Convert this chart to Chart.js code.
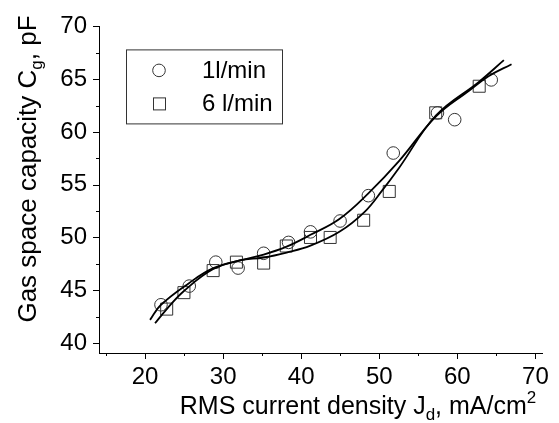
<!DOCTYPE html>
<html>
<head>
<meta charset="utf-8">
<title>Gas space capacity vs RMS current density</title>
<script src="https://cdn.jsdelivr.net/npm/chart.js@4.4.1/dist/chart.umd.min.js"></script>
<style>
  html, body { margin: 0; padding: 0; background: #fff; }
  #wrap { width: 559px; height: 423px; }
</style>
</head>
<body>
<div id="wrap"><canvas id="capChart" width="559" height="423"></canvas></div>
<script>
// measured points, 1 l/min (circles)
const flow1X = [22.04, 25.66, 29.06, 31.92, 35.19, 38.38, 41.19, 44.98, 48.6, 51.79, 57.45, 59.66, 64.34];
const flow1Y = [43.62, 45.39, 47.66, 47.1, 48.5, 49.53, 50.53, 51.56, 53.96, 58.0, 61.8, 61.16, 64.93];
// measured points, 6 l/min (squares)
const flow6X = [22.77, 24.98, 28.72, 31.7, 35.19, 38.09, 41.19, 43.71, 48.0, 51.28, 57.23, 62.8];
const flow6Y = [43.21, 44.77, 46.86, 47.66, 47.57, 49.19, 50.0, 50.0, 51.63, 54.36, 61.81, 64.33];
// fitted curves
const fit1X = [20.64, 22.04, 25.62, 28.68, 32.13, 35.19, 38.13, 41.19, 44.89, 48.6, 52.55, 57.27, 61.49, 64.04, 66.94];
const fit1Y = [42.19, 43.62, 45.67, 47.07, 47.82, 48.38, 49.13, 50.25, 51.75, 54.18, 57.26, 61.47, 63.9, 65.3, 66.42];
const fit6X = [21.28, 22.81, 24.98, 28.68, 32.13, 35.19, 38.13, 41.19, 44.89, 48.09, 50.38, 52.55, 57.27, 62.76, 65.96];
const fit6Y = [41.87, 43.24, 44.93, 46.98, 47.82, 48.1, 48.57, 49.22, 50.53, 52.4, 54.46, 56.61, 61.56, 64.74, 66.8];

const seriesNames = ['1l/min', '6 l/min'];
const xTicks = [15, 20, 25, 30, 35, 40, 45, 50, 55, 60, 65, 70];
const xLabels = [20, 30, 40, 50, 60, 70];
const yTicks = [40, 42.5, 45, 47.5, 50, 52.5, 55, 57.5, 60, 62.5, 65, 67.5, 70];
const yLabels = [40, 45, 50, 55, 60, 65, 70];

const FONT = '"Liberation Sans", Arial, sans-serif';
const MARK = '#333';

function pairs(xs, ys) {
  return xs.map((x, i) => ({ x: x, y: ys[i] }));
}

// short/long tick marks outside the axes
const axisTicks = {
  id: 'axisTicks',
  afterDraw(chart) {
    const ctx = chart.ctx;
    const xs = chart.scales.x, ys = chart.scales.y;
    ctx.save();
    ctx.strokeStyle = '#000';
    ctx.lineWidth = 1;
    ctx.beginPath();
    xs.ticks.forEach(t => {
      const p = Math.round(xs.getPixelForValue(t.value)) + 0.5;
      const len = xLabels.includes(t.value) ? 6 : 3;
      ctx.moveTo(p, xs.top);
      ctx.lineTo(p, xs.top + len);
    });
    ys.ticks.forEach(t => {
      const p = Math.round(ys.getPixelForValue(t.value)) + 0.5;
      const len = yLabels.includes(t.value) ? 6 : 3;
      ctx.moveTo(ys.right, p);
      ctx.lineTo(ys.right - len, p);
    });
    ctx.stroke();
    ctx.restore();
  }
};

// axis titles with sub/superscripts
function richWidth(ctx, parts) {
  let w = 0;
  parts.forEach(p => {
    ctx.font = p.size + 'px ' + FONT;
    w += ctx.measureText(p.text).width;
  });
  return w;
}
function drawRich(ctx, parts, x, y) {
  parts.forEach(p => {
    ctx.font = p.size + 'px ' + FONT;
    ctx.fillText(p.text, x, y + p.shift);
    x += ctx.measureText(p.text).width;
  });
}
const axisTitles = {
  id: 'axisTitles',
  afterDraw(chart) {
    const ctx = chart.ctx;
    const xParts = [
      { text: 'RMS current density J', size: 25, shift: 0 },
      { text: 'd', size: 17, shift: 6 },
      { text: ', mA/cm', size: 25, shift: 0 },
      { text: '2', size: 17, shift: -11 }
    ];
    const yParts = [
      { text: 'Gas space capacity C', size: 26, shift: 0 },
      { text: 'g', size: 17, shift: 6 },
      { text: ', pF', size: 26, shift: 0 }
    ];
    ctx.save();
    ctx.fillStyle = '#000';
    ctx.textBaseline = 'alphabetic';
    ctx.textAlign = 'left';
    const xw = richWidth(ctx, xParts);
    drawRich(ctx, xParts, 358 - xw / 2, 414);
    const yw = richWidth(ctx, yParts);
    ctx.translate(36, 169 + yw / 2);
    ctx.rotate(-Math.PI / 2);
    drawRich(ctx, yParts, 0, 0);
    ctx.restore();
  }
};

// boxed legend in the upper left of the plot
const boxLegend = {
  id: 'boxLegend',
  afterDraw(chart) {
    const ctx = chart.ctx;
    const a = chart.chartArea;
    const left = a.left + 27, top = a.top + 23;
    ctx.save();
    ctx.strokeStyle = MARK;
    ctx.lineWidth = 1;
    ctx.strokeRect(left + 0.5, top + 0.5, 156, 74);
    ctx.beginPath();
    ctx.arc(left + 33, top + 21, 6.3, 0, Math.PI * 2);
    ctx.stroke();
    ctx.strokeRect(left + 27.5, top + 48.5, 12, 12);
    ctx.fillStyle = '#000';
    ctx.font = '24px ' + FONT;
    ctx.textBaseline = 'middle';
    ctx.fillText(seriesNames[0], left + 76, top + 22);
    ctx.fillText(seriesNames[1], left + 76, top + 55);
    ctx.restore();
  }
};

const fitStyle = {
  showLine: true,
  borderColor: '#000',
  borderWidth: 1.8,
  pointRadius: 0,
  tension: 0.4
};

const ctx = document.getElementById('capChart').getContext('2d');
const chart = new Chart(ctx, {
  type: 'scatter',
  data: {
    datasets: [
      Object.assign({ label: seriesNames[0] + ' fit', data: pairs(fit1X, fit1Y) }, fitStyle),
      Object.assign({ label: seriesNames[1] + ' fit', data: pairs(fit6X, fit6Y) }, fitStyle),
      {
        label: seriesNames[0],
        data: pairs(flow1X, flow1Y),
        pointStyle: 'circle',
        pointRadius: 6.3,
        borderColor: MARK,
        borderWidth: 1,
        backgroundColor: 'rgba(0,0,0,0)'
      },
      {
        label: seriesNames[1],
        data: pairs(flow6X, flow6Y),
        pointStyle: 'rect',
        pointRadius: 8.5,
        borderColor: MARK,
        borderWidth: 1,
        backgroundColor: 'rgba(0,0,0,0)'
      }
    ]
  },
  options: {
    responsive: false,
    animation: false,
    layout: { padding: { left: 0, right: 15, top: 21, bottom: 0 } },
    plugins: {
      legend: { display: false },
      tooltip: { enabled: false }
    },
    scales: {
      x: {
        type: 'linear',
        min: 14.1,
        max: 70.9,
        afterBuildTicks: s => { s.ticks = xTicks.map(v => ({ value: v })); },
        afterFit: s => { s.height = 70; },
        grid: { display: false, drawTicks: false },
        border: { display: true, color: '#000', width: 1 },
        ticks: {
          padding: 10,
          color: '#000',
          font: { family: FONT, size: 24 },
          maxRotation: 0,
          autoSkip: false,
          callback: v => xLabels.includes(v) ? String(v) : ''
        }
      },
      y: {
        type: 'linear',
        min: 39.05,
        max: 70,
        afterBuildTicks: s => { s.ticks = yTicks.map(v => ({ value: v })); },
        afterFit: s => { s.width = 99; },
        grid: { display: false, drawTicks: false },
        border: { display: true, color: '#000', width: 1 },
        ticks: {
          padding: 12,
          color: '#000',
          font: { family: FONT, size: 24 },
          autoSkip: false,
          callback: v => yLabels.includes(v) ? String(v) : ''
        }
      }
    }
  },
  plugins: [axisTicks, axisTitles, boxLegend]
});
</script>
</body>
</html>
